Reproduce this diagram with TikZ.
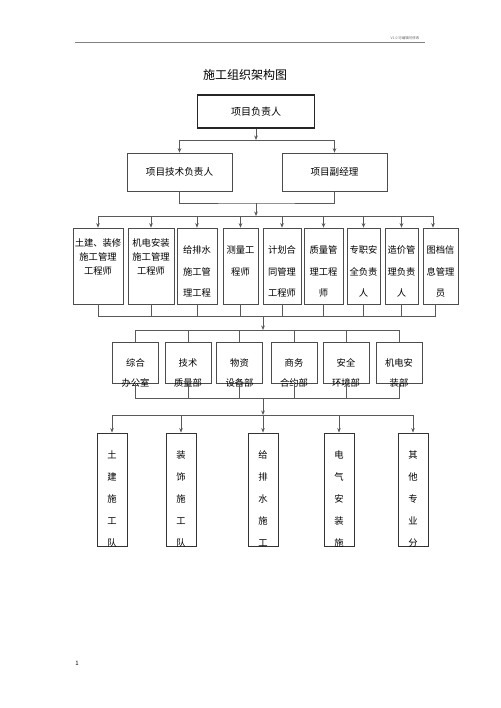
\documentclass[tikz,border=0pt]{standalone}
\usepackage{fontspec}
\setmainfont{Noto Sans CJK SC}
\usetikzlibrary{arrows.meta}

\begin{document}
\begin{tikzpicture}[
        x=1pt, y=-1pt,
        >={Stealth[length=4.5pt,width=3.6pt]},
        capo/.style={rectangle, draw=black!85, line width=1.1pt, minimum width=117pt, minimum height=33pt, inner sep=0pt, font=\fontsize{10}{12}\selectfont},
        vice/.style={rectangle, draw=black!70, line width=0.7pt, minimum width=105pt, minimum height=38pt, inner sep=0pt, font=\fontsize{9.6}{12}\selectfont},
        ruolo/.style={rectangle, draw=black!70, line width=0.7pt, minimum height=76pt, inner sep=0pt},
        ufficio/.style={rectangle, draw=black!70, line width=0.7pt, minimum width=46pt, minimum height=41pt, inner sep=0pt},
        squadra/.style={rectangle, draw=black!80, line width=0.9pt, minimum width=30pt, minimum height=113pt, inner sep=0pt},
        testo/.style={align=center, inner sep=0pt, font=\fontsize{9.3}{21.5}\selectfont},
        linea/.style={draw=black!65, line width=0.7pt},
        freccia/.style={linea, ->}
    ]
    \useasboundingbox (0,0) rectangle (500,708);

    % Intestazione
    \coordinate (rigaA) at (75,43);
    \coordinate (rigaB) at (425,43);
    \draw[black!50, line width=1pt] (rigaA) -- (rigaB);
    \node[font=\fontsize{3.5}{4}\selectfont, text=black!60] (versione) at (405,38) {V1.0 可编辑可修改};
    \node[font=\fontsize{12}{14}\selectfont] (titolo) at (245,75) {施工组织架构图};
    \node[font=\fontsize{6}{7}\selectfont] (pagina) at (77,663) {1};

    % Primo e secondo livello
    \node[capo]  (capo)    at (256,111.5) {项目负责人};
    \node[vice]  (tecnico) at (179.5,172) {项目技术负责人};
    \node[vice]  (vice)    at (334.5,172) {项目副经理};

    % Terzo livello
    \node[ruolo, minimum width=50pt] (r1) at (98,266) {};
    \node[ruolo, minimum width=46pt] (r2) at (151,266) {};
    \node[ruolo, minimum width=40pt] (r3) at (197,266) {};
    \node[ruolo, minimum width=35pt] (r4) at (240.5,266) {};
    \node[ruolo, minimum width=38pt] (r5) at (282,266) {};
    \node[ruolo, minimum width=39pt] (r6) at (323.5,266) {};
    \node[ruolo, minimum width=33pt] (r7) at (363.5,266) {};
    \node[ruolo, minimum width=33pt] (r8) at (401.5,266) {};
    \node[ruolo, minimum width=35pt] (r9) at (440.5,266) {};

    \node[testo, font=\fontsize{9.3}{14}\selectfont] (r1t) at ([yshift=9]r1.center) {土建、装修\\施工管理\\工程师};
    \node[testo, font=\fontsize{9.3}{14}\selectfont] (r2t) at ([yshift=9]r2.center) {机电安装\\施工管理\\工程师};
    \node[testo] (r3t) at ([yshift=-5.5]r3.center) {给排水\\施工管\\理工程};
    \node[testo] (r4t) at ([yshift=5]r4.center)    {测量工\\程师};
    \node[testo] (r5t) at ([yshift=-5.5]r5.center) {计划合\\同管理\\工程师};
    \node[testo] (r6t) at ([yshift=-5.5]r6.center) {质量管\\理工程\\师};
    \node[testo] (r7t) at ([yshift=-5.5]r7.center) {专职安\\全负责\\人};
    \node[testo] (r8t) at ([yshift=-5.5]r8.center) {造价管\\理负责\\人};
    \node[testo] (r9t) at ([yshift=-5.5]r9.center) {图档信\\息管理\\员};

    % Quarto livello
    \node[ufficio] (u1) at (135.5,362.5) {};
    \node[ufficio] (u2) at (188,362.5) {};
    \node[ufficio] (u3) at (239.5,362.5) {};
    \node[ufficio] (u4) at (294,362.5) {};
    \node[ufficio] (u5) at (346,362.5) {};
    \node[ufficio] (u6) at (399,362.5) {};

    \node[testo, font=\fontsize{9.3}{20}\selectfont] (u1t) at ([yshift=-10.5]u1.center) {综合\\办公室};
    \node[testo, font=\fontsize{9.3}{20}\selectfont] (u2t) at ([yshift=-10.5]u2.center) {技术\\质量部};
    \node[testo, font=\fontsize{9.3}{20}\selectfont] (u3t) at ([yshift=-10.5]u3.center) {物资\\设备部};
    \node[testo, font=\fontsize{9.3}{20}\selectfont] (u4t) at ([yshift=-10.5]u4.center) {商务\\合约部};
    \node[testo, font=\fontsize{9.3}{20}\selectfont] (u5t) at ([yshift=-10.5]u5.center) {安全\\环境部};
    \node[testo, font=\fontsize{9.3}{20}\selectfont] (u6t) at ([yshift=-10.5]u6.center) {机电安\\装部};

    % Squadre
    \node[squadra] (s1) at (112,489.5) {};
    \node[squadra] (s2) at (181,489.5) {};
    \node[squadra] (s3) at (263,489.5) {};
    \node[squadra] (s4) at (339,489.5) {};
    \node[squadra] (s5) at (413,489.5) {};

    \node[testo, font=\fontsize{9.3}{22}\selectfont] (s1t) at ([yshift=-9.5]s1.center) {土\\建\\施\\工\\队};
    \node[testo, font=\fontsize{9.3}{22}\selectfont] (s2t) at ([yshift=-9.5]s2.center) {装\\饰\\施\\工\\队};
    \node[testo, font=\fontsize{9.3}{22}\selectfont] (s3t) at ([yshift=-9.5]s3.center) {给\\排\\水\\施\\工};
    \node[testo, font=\fontsize{9.3}{22}\selectfont] (s4t) at ([yshift=-9.5]s4.center) {电\\气\\安\\装\\施};
    \node[testo, font=\fontsize{9.3}{22}\selectfont] (s5t) at ([yshift=-9.5]s5.center) {其\\他\\专\\业\\分};

    % Collegamenti: primo -> secondo livello
    \coordinate (g1) at (256,140);
    \draw[freccia] (capo) -- (g1);
    \draw[freccia] (g1) -| (tecnico.north);
    \draw[freccia] (g1) -| (vice.north);

    % Collegamenti: secondo -> terzo livello
    \coordinate (g2) at (256,203);
    \coordinate (g3) at (256,216);
    \draw[linea] (tecnico.south) |- (g2) -| (vice.south);
    \draw[freccia] (g2) -- (g3);
    \draw[freccia] (g3) -| (r1.north);
    \draw[freccia] (g3) -| (r2.north);
    \draw[freccia] (g3) -| (r3.north);
    \draw[freccia] (g3) -| (r4.north);
    \draw[freccia] (g3) -| (r5.north);
    \draw[freccia] (g3) -| (r6.north);
    \draw[freccia] (g3) -| (r7.north);
    \draw[freccia] (g3) -| (r8.north);
    \draw[freccia] (g3) -| ([xshift=-7.5]r9.north);

    % Collegamenti: terzo -> quarto livello
    \coordinate (g4) at (263,316);
    \coordinate (g5) at (263,330);
    \draw[linea] (r1.south) |- (g4);
    \draw[linea] (r2.south) |- (g4);
    \draw[linea] (r3.south) |- (g4);
    \draw[linea] (r4.south) |- (g4);
    \draw[linea] (r5.south) |- (g4);
    \draw[linea] (r6.south) |- (g4);
    \draw[linea] (r7.south) |- (g4);
    \draw[linea] (r8.south) |- (g4);
    \draw[linea] ([xshift=-5.5]r9.south) |- (g4);
    \draw[freccia] (g4) -- (g5);
    \draw[linea] (g5) -| (u1.north);
    \draw[linea] (g5) -| (u2.north);
    \draw[linea] (g5) -| (u3.north);
    \draw[linea] (g5) -| (u4.north);
    \draw[linea] (g5) -| (u5.north);
    \draw[linea] (g5) -| (u6.north);

    % Collegamenti: quarto livello -> squadre
    \coordinate (g6) at (263,398);
    \coordinate (g7) at (263,415);
    \draw[linea] (u1.south) |- (g6);
    \draw[linea] (u2.south) |- (g6);
    \draw[linea] (u3.south) |- (g6);
    \draw[linea] (u4.south) |- (g6);
    \draw[linea] (u5.south) |- (g6);
    \draw[linea] (u6.south) |- (g6);
    \draw[freccia] (g6) -- (g7);
    \draw[freccia] (g7) -| (s1.north);
    \draw[freccia] (g7) -| (s2.north);
    \draw[freccia] (g7) -- (s3.north);
    \draw[freccia] (g7) -| (s4.north);
    \draw[freccia] (g7) -| (s5.north);

    \end{tikzpicture}
\end{document}
